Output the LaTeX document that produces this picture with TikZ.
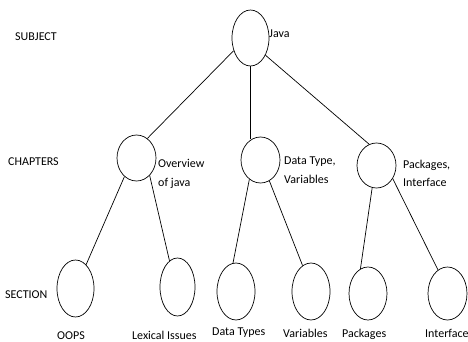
\documentclass[tikz,border=0pt]{standalone}
\usepackage{fontspec}
\setmainfont{Carlito}
\usetikzlibrary{shapes.geometric}
\begin{document}
\begin{tikzpicture}[x=1pt,y=-1pt,
  bub/.style={ellipse,draw,line width=0.7pt,inner sep=0pt},
  lbl/.style={font=\fontsize{12}{18.5}\selectfont,inner sep=0pt,anchor=base west,align=left},
  conn/.style={line width=0.7pt}]
\useasboundingbox (0,0) rectangle (468,342);
% level labels
\node[lbl] (subj) at (15,41) {SUBJECT};
\node[lbl] (chap) at (8,165) {CHAPTERS};
\node[lbl] (sect) at (5,298) {SECTION};
% subject
\node[bub,minimum width=37pt,minimum height=56pt] (java) at (250.5,38) {};
\node[lbl] (javal) at (269,38) {Java};
% chapters
\node[bub,minimum width=39pt,minimum height=46pt] (ov) at (136.5,158) {};
\node[bub,minimum width=39pt,minimum height=46pt] (dt) at (260.5,160) {};
\node[bub,minimum width=39pt,minimum height=45pt] (pk) at (376.5,165.5) {};
\node[lbl,anchor=west] (ovl) at (158,174) {Overview\\of java};
\node[lbl,anchor=west] (dtl) at (284,170) {Data Type,\\Variables};
\node[lbl,anchor=west] (pkl) at (403,173.5) {Packages,\\Interface};
% sections
\node[bub,minimum width=37pt,minimum height=57pt] (oops) at (75.5,288.5) {};
\node[bub,minimum width=35pt,minimum height=58pt] (lex) at (177.5,287) {};
\node[bub,minimum width=38pt,minimum height=57pt] (dts) at (236,291.5) {};
\node[bub,minimum width=38pt,minimum height=57pt] (var) at (311,291.5) {};
\node[bub,minimum width=38pt,minimum height=53pt] (pks) at (368,293.5) {};
\node[bub,minimum width=39pt,minimum height=53pt] (int) at (447.5,293.5) {};
\node[lbl] (oopsl) at (57,339) {OOPS};
\node[lbl] (lexl) at (132,339) {Lexical Issues};
\node[lbl] (dtsl) at (212,335) {Data Types};
\node[lbl] (varl) at (283,337) {Variables};
\node[lbl] (pksl) at (342,337) {Packages};
\node[lbl] (intl) at (425,337) {Interface};
% connectors
\draw[conn] (java.217) -- (ov.61);
\draw[conn] (java.south) -- (java.south |- dt.112);
\draw[conn] (java.-49) -- (pk.109);
\draw[conn] (ov.237) -- (oops.66);
\draw[conn] (ov.-53) -- (lex.107);
\draw[conn] (dt.240) -- (dts.96);
\draw[conn] (dt.-67) -- (var.108);
\draw[conn] (pk.259) -- (pks.107);
\draw[conn] (pk.-39) -- (int.112);
\end{tikzpicture}
\end{document}
